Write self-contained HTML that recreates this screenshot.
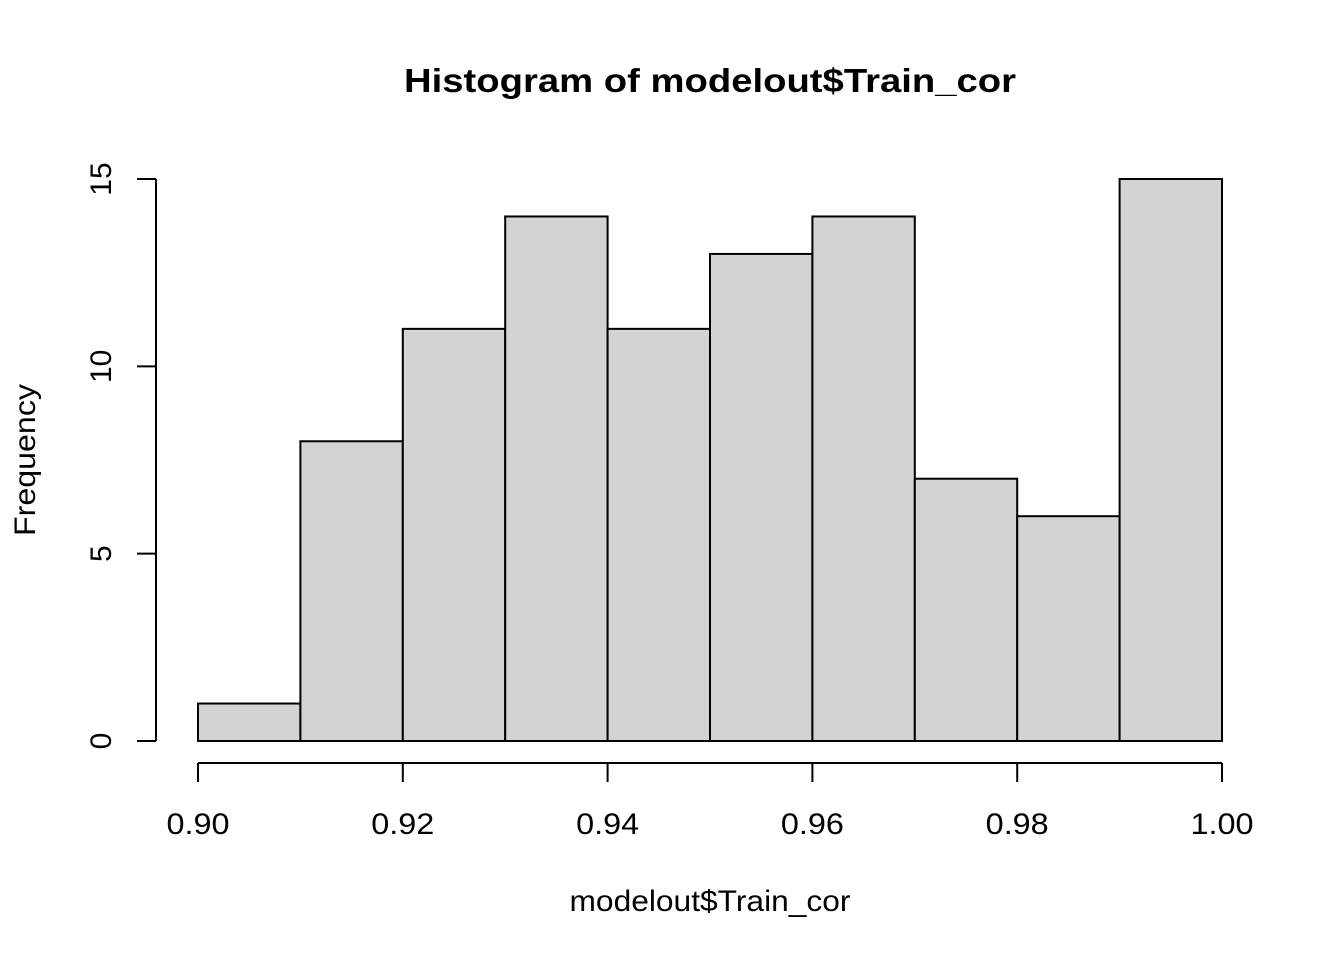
<!DOCTYPE html>
<html><head><meta charset="utf-8"><style>
html,body{margin:0;padding:0;background:#fff;}
svg{display:block;font-family:"Liberation Sans",Arial,sans-serif;}
</style></head><body>
<svg id="chart" width="1344" height="960" xmlns="http://www.w3.org/2000/svg">
<text x="710" y="92" text-anchor="middle" font-size="33" font-weight="bold" textLength="612" lengthAdjust="spacingAndGlyphs">Histogram of modelout$Train_cor</text>
<text x="710" y="911" text-anchor="middle" font-size="30" textLength="281" lengthAdjust="spacingAndGlyphs">modelout$Train_cor</text>
<text transform="translate(35,460) rotate(-90)" text-anchor="middle" font-size="30" textLength="152" lengthAdjust="spacingAndGlyphs">Frequency</text>
<g id="bars"></g>
<g id="xaxis"></g>
<g id="yaxis"></g>
</svg>
<script>
const binStarts=[0.90,0.91,0.92,0.93,0.94,0.95,0.96,0.97,0.98,0.99];
const binWidth=0.01;
const counts=[1,8,11,14,11,13,14,7,6,15];
const xTicks=[0.90,0.92,0.94,0.96,0.98,1.00];
const xTickLabels=["0.90","0.92","0.94","0.96","0.98","1.00"];
const yTicks=[0,5,10,15];
const NS="http://www.w3.org/2000/svg";
function xs(v){return 198+(v-0.90)/0.10*1024;}
function ys(v){return 741-v*(562/15);}
function mk(tag,attrs,parent){const e=document.createElementNS(NS,tag);for(const k in attrs)e.setAttribute(k,attrs[k]);parent.appendChild(e);return e;}
const bars=document.getElementById('bars');
binStarts.forEach((b,i)=>{
  const x0=xs(b),x1=xs(b+binWidth),y=ys(counts[i]);
  const r=mk('rect',{x:x0,y:y,width:x1-x0,height:ys(0)-y,fill:'#d3d3d3',stroke:'#000','stroke-width':2},bars);
  
  
});
const xa=document.getElementById('xaxis');
mk('line',{x1:xs(xTicks[0]),x2:xs(xTicks[xTicks.length-1]),y1:763,y2:763,stroke:'#000','stroke-width':2},xa);
xTicks.forEach((t,i)=>{
  mk('line',{x1:xs(t),x2:xs(t),y1:763,y2:782,stroke:'#000','stroke-width':2},xa);
  const tx=mk('text',{x:xs(t),y:834,'text-anchor':'middle','font-size':30,textLength:63,lengthAdjust:'spacingAndGlyphs'},xa);
  
  
  tx.textContent=xTickLabels[i];
});
const ya=document.getElementById('yaxis');
mk('line',{x1:156,x2:156,y1:ys(yTicks[0]),y2:ys(yTicks[yTicks.length-1]),stroke:'#000','stroke-width':2},ya);
yTicks.forEach(t=>{
  mk('line',{x1:137,x2:156,y1:ys(t),y2:ys(t),stroke:'#000','stroke-width':2},ya);
  const tx=mk('text',{transform:`translate(111,${ys(t)}) rotate(-90)`,'text-anchor':'middle','font-size':30},ya);
  
  
  tx.textContent=String(t);
});
</script>
</body></html>
